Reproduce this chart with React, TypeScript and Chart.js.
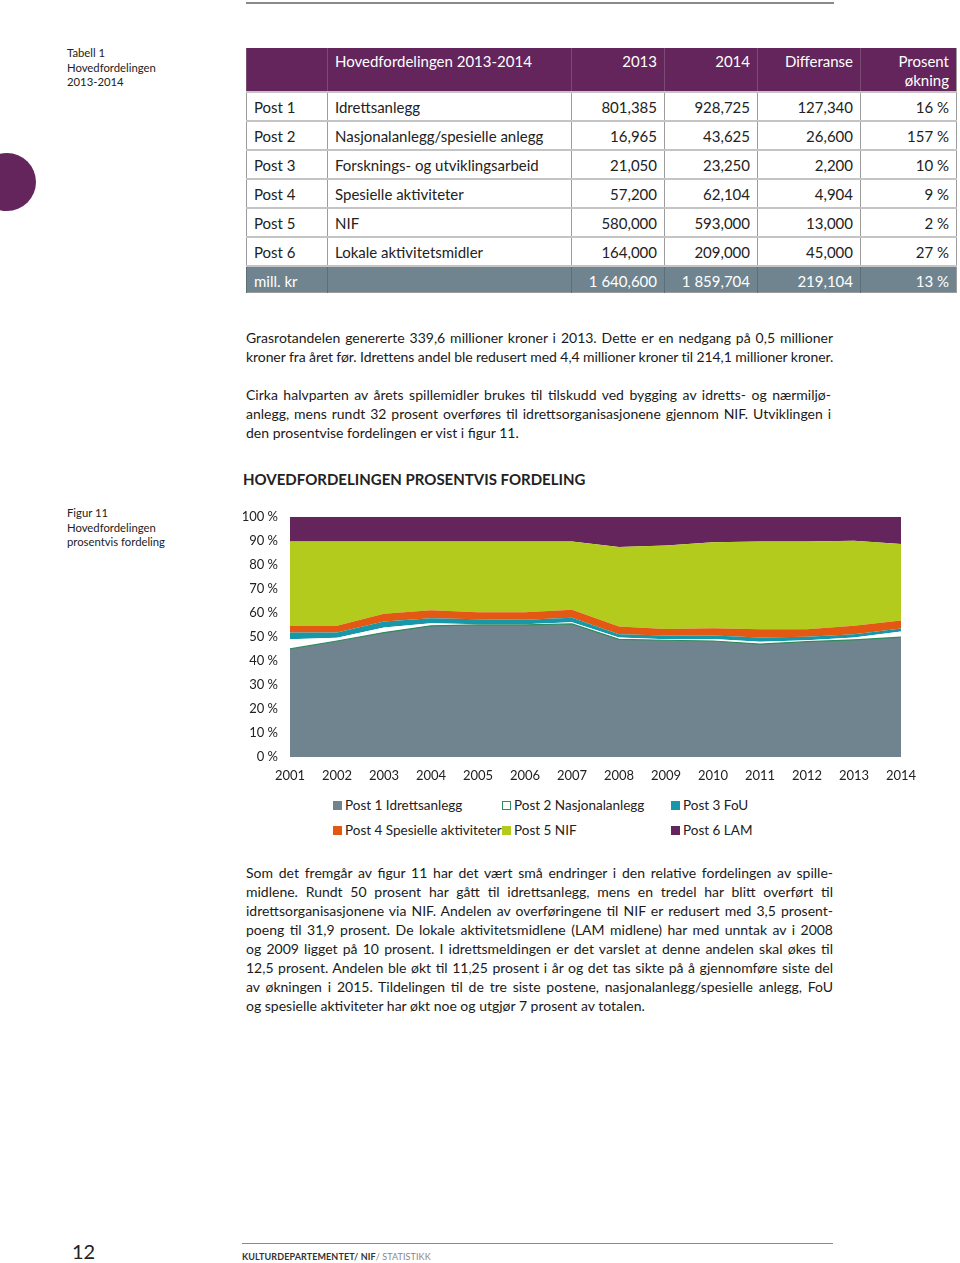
import React, { useEffect, useLayoutEffect, useRef } from "react";
import { Chart, registerables } from "chart.js";

Chart.register(...registerables);

const years = ["2001","2002","2003","2004","2005","2006","2007","2008","2009","2010","2011","2012","2013","2014"];
const post1 = [45.0, 48.3, 51.8, 54.6, 55.0, 55.0, 55.4, 49.0, 48.6, 48.3, 47.0, 48.0, 48.8, 49.9];
const post2 = [4.0, 1.3, 2.1, 1.1, 0.3, 0.3, 0.7, 0.7, 0.4, 0.8, 1.0, 0.6, 1.0, 2.3];
const post3 = [2.8, 2.2, 2.5, 2.1, 2.1, 1.8, 1.9, 1.4, 1.6, 1.5, 1.7, 1.5, 1.3, 1.3];
const post4 = [2.8, 2.8, 3.2, 3.3, 2.9, 3.2, 3.3, 3.2, 2.7, 3.0, 3.5, 3.1, 3.5, 3.3];
const post5 = [35.1, 35.1, 30.1, 28.6, 29.4, 29.4, 28.4, 33.1, 34.7, 35.8, 36.5, 36.5, 35.4, 31.9];
const post6 = [10.3, 10.3, 10.3, 10.3, 10.3, 10.3, 10.3, 12.6, 12.0, 10.6, 10.3, 10.3, 10.0, 11.3];
const yTicks = [0, 10, 20, 30, 40, 50, 60, 70, 80, 90, 100];

const seriesNames = ["Post 1 Idrettsanlegg", "Post 2 Nasjonalanlegg", "Post 3 FoU", "Post 4 Spesielle aktiviteter", "Post 5 NIF", "Post 6 LAM"];

const tableHeader = ["", "Hovedfordelingen 2013-2014", "2013", "2014", "Differanse", "Prosent økning"];
const tableRows = [
  ["Post 1", "Idrettsanlegg", "801,385", "928,725", "127,340", "16 %"],
  ["Post 2", "Nasjonalanlegg/spesielle anlegg", "16,965", "43,625", "26,600", "157 %"],
  ["Post 3", "Forsknings- og utviklingsarbeid", "21,050", "23,250", "2,200", "10 %"],
  ["Post 4", "Spesielle aktiviteter", "57,200", "62,104", "4,904", "9 %"],
  ["Post 5", "NIF", "580,000", "593,000", "13,000", "2 %"],
  ["Post 6", "Lokale aktivitetsmidler", "164,000", "209,000", "45,000", "27 %"],
];
const tableTotal = ["mill. kr", "", "1 640,600", "1 859,704", "219,104", "13 %"];

const PURPLE = "#63255b";
const GRAY = "#6f848e";
const GREEN_LINE = "#2f8a5e";
const TEAL = "#1797a8";
const ORANGE = "#e35913";
const LIME = "#b3cb1d";

const FONT = "Lato, 'Open Sans', sans-serif";

const colW = [81, 244, 93, 93, 103, 96];

function ChartBlock() {
  const ref = useRef<HTMLCanvasElement | null>(null);
  useEffect(() => {
    if (!ref.current) return;
    const mk = (label: string, data: number[], bg: string, border: string, bw: number, fill: any) => ({
      label, data, backgroundColor: bg, borderColor: border, borderWidth: bw, fill,
      pointRadius: 0, pointHoverRadius: 0, tension: 0,
    });
    const chart = new Chart(ref.current, {
      type: "line",
      data: {
        labels: years,
        datasets: [
          mk(seriesNames[0], post1, GRAY, GREEN_LINE, 1.2, "origin"),
          mk(seriesNames[1], post2, "#ffffff", "#ffffff", 0, "-1"),
          mk(seriesNames[2], post3, TEAL, TEAL, 0, "-1"),
          mk(seriesNames[3], post4, ORANGE, ORANGE, 0, "-1"),
          mk(seriesNames[4], post5, LIME, LIME, 0, "-1"),
          mk(seriesNames[5], post6, PURPLE, PURPLE, 0, "-1"),
        ],
      },
      options: {
        animation: false,
        responsive: false,
        maintainAspectRatio: false,
        layout: { padding: { top: 5, right: 24, left: 0, bottom: 0 } },
        plugins: { legend: { display: false }, tooltip: { enabled: false } },
        scales: {
          x: {
            type: "category",
            offset: false,
            grid: { display: false },
            border: { display: false },
            ticks: { color: "#222", font: { family: FONT, size: 13 }, padding: 3, maxRotation: 0, autoSkip: false },
            afterFit: (s: any) => { s.height = 38; },
          },
          y: {
            stacked: true,
            min: 0,
            max: 100,
            grid: { display: false },
            border: { display: false },
            afterBuildTicks: (s: any) => { s.ticks = yTicks.map((v) => ({ value: v })); },
            ticks: { color: "#222", font: { family: FONT, size: 13 }, padding: 4, callback: (v: any) => v + " %" },
            afterFit: (s: any) => { s.width = 65; },
          },
        },
      },
    });
    return () => chart.destroy();
  }, []);
  return <canvas ref={ref} width={700} height={290} style={{ display: "block", width: 700, height: 290 }} />;
}

const bodyText: React.CSSProperties = { fontFamily: FONT, fontSize: 14, lineHeight: "19px", color: "#1a1a1a" };

function Line({ text, width, justify }: { text: string; width: number; justify?: boolean }) {
  const ref = useRef<HTMLSpanElement | null>(null);
  useLayoutEffect(() => {
    const fit = () => {
      const el = ref.current;
      if (!el) return;
      el.style.letterSpacing = "0px";
      el.style.wordSpacing = "0px";
      const w = el.getBoundingClientRect().width;
      if (w > width) {
        el.style.letterSpacing = ((width - w) / text.length) + "px";
      } else if (justify) {
        const spaces = (text.match(/ /g) || []).length;
        if (spaces > 0) el.style.wordSpacing = ((width - w) / spaces) + "px";
      }
    };
    fit();
    if ((document as any).fonts && (document as any).fonts.ready) (document as any).fonts.ready.then(fit);
  }, [text, width, justify]);
  return <div style={{ whiteSpace: "nowrap", height: 19 }}><span ref={ref} style={{ whiteSpace: "nowrap" }}>{text}</span></div>;
}

export default function App() {
  useEffect(() => { document.body.style.margin = "0"; }, []);
  const cell = (i: number, header: boolean): React.CSSProperties => ({
    width: colW[i],
    boxSizing: "border-box",
    padding: i < 2 ? "0 0 0 7px" : "0 7px 0 0",
    textAlign: i < 2 ? "left" : "right",
    borderLeft: "1px solid #9c9c9c",
    borderRight: i === 5 ? "1px solid #9c9c9c" : undefined,
    verticalAlign: header ? "top" : "middle",
  });
  const para1 = [
    "Grasrotandelen genererte 339,6 millioner kroner i 2013. Dette er en nedgang på 0,5 millioner",
    "kroner fra året før. Idrettens andel ble redusert med 4,4 millioner kroner til 214,1 millioner kroner.",
  ];
  const para2 = [
    "Cirka halvparten av årets spillemidler brukes til tilskudd ved bygging av idretts- og nærmiljø-",
    "anlegg, mens rundt 32 prosent overføres til idrettsorganisasjonene gjennom NIF. Utviklingen i",
    "den prosentvise fordelingen er vist i figur 11.",
  ];
  const para3 = [
    "Som det fremgår av figur 11 har det vært små endringer i den relative fordelingen av spille-",
    "midlene. Rundt 50 prosent har gått til idrettsanlegg, mens en tredel har blitt overført til",
    "idrettsorganisasjonene via NIF. Andelen av overføringene til NIF er redusert med 3,5 prosent-",
    "poeng til 31,9 prosent. De lokale aktivitetsmidlene (LAM midlene) har med unntak av i 2008",
    "og 2009 ligget på 10 prosent. I idrettsmeldingen er det varslet at denne andelen skal økes til",
    "12,5 prosent. Andelen ble økt til 11,25 prosent i år og det tas sikte på å gjennomføre siste del",
    "av økningen i 2015. Tildelingen til de tre siste postene, nasjonalanlegg/spesielle anlegg, FoU",
    "og spesielle aktiviteter har økt noe og utgjør 7 prosent av totalen.",
  ];
  const legendCols = [333, 502, 671];
  const legendRows = [805, 830];
  const legendColors = [GRAY, "#ffffff", TEAL, ORANGE, LIME, PURPLE];
  return (
    <div style={{ position: "absolute", left: 0, top: 0, width: 960, height: 1263, background: "#fff", overflow: "hidden", fontFamily: FONT }}>
      <div style={{ position: "absolute", left: 246, top: 2, width: 588, height: 1.5, background: "#8a8a8a" }} />
      <div style={{ position: "absolute", left: 67, top: 46, fontSize: 11.3, lineHeight: "14.5px", color: "#222" }}>
        <div>Tabell 1</div><div>Hovedfordelingen</div><div>2013-2014</div>
      </div>
      <div style={{ position: "absolute", left: -22, top: 153, width: 58, height: 58, borderRadius: "50%", background: PURPLE }} />

      <table style={{ position: "absolute", left: 246, top: 48, borderCollapse: "collapse", tableLayout: "fixed", width: 710, fontSize: 15, color: "#222" }}>
        <tbody>
          <tr style={{ background: PURPLE, color: "#fff", height: 44 }}>
            {tableHeader.map((h, i) => (
              <td key={i} style={{ ...cell(i, true), paddingTop: 4, lineHeight: "19px", borderLeft: "1px solid #7a4a72" }}>
                {h === "Prosent økning" ? <><div>Prosent</div><div>økning</div></> : h}
              </td>
            ))}
          </tr>
          {tableRows.map((r, ri) => (
            <tr key={ri} style={{ height: 29, borderTop: "2px solid #c4c4c4" }}>
              {r.map((c, i) => <td key={i} style={cell(i, false)}>{c}</td>)}
            </tr>
          ))}
          <tr style={{ height: 26, background: GRAY, color: "#fff", borderTop: "2px solid #c4c4c4", borderBottom: "1px solid #9c9c9c" }}>
            {tableTotal.map((c, i) => <td key={i} style={{ ...cell(i, false), borderLeft: "1px solid #5b6f78", paddingTop: 3 }}>{c}</td>)}
          </tr>
        </tbody>
      </table>

      <div style={{ ...bodyText, position: "absolute", left: 246, top: 328, width: 588 }}>
        {para1.map((t, i) => <Line key={i} text={t} width={587} justify />)}
      </div>
      <div style={{ ...bodyText, position: "absolute", left: 246, top: 385, width: 588 }}>
        {para2.map((t, i) => <Line key={i} text={t} width={585} justify={i < para2.length - 1} />)}
      </div>

      <div style={{ position: "absolute", left: 243, top: 470, fontSize: 15, fontWeight: 700, color: "#222" }}>
        HOVEDFORDELINGEN PROSENTVIS FORDELING
      </div>
      <div style={{ position: "absolute", left: 67, top: 506, fontSize: 11.3, lineHeight: "14.5px", color: "#222" }}>
        <div>Figur 11</div><div>Hovedfordelingen</div><div>prosentvis fordeling</div>
      </div>

      <div style={{ position: "absolute", left: 225, top: 505, width: 700, height: 290 }}>
        <ChartBlock />
      </div>

      {seriesNames.map((n, i) => (
        <div key={i} style={{ position: "absolute", left: legendCols[i % 3], top: legendRows[Math.floor(i / 3)] - 9, height: 18, display: "flex", alignItems: "center", fontSize: 13.5, color: "#222", whiteSpace: "nowrap" }}>
          <span style={{ display: "inline-block", width: 9, height: 9, boxSizing: "border-box", background: legendColors[i], border: i === 1 ? "1px solid " + GREEN_LINE : "none", marginRight: 3 }} />
          {n}
        </div>
      ))}

      <div style={{ ...bodyText, position: "absolute", left: 246, top: 863, width: 588 }}>
        {para3.map((t, i) => <Line key={i} text={t} width={587} justify={i < para3.length - 1} />)}
      </div>

      <div style={{ position: "absolute", left: 72, top: 1239, fontSize: 20, color: "#222" }}>12</div>
      <div style={{ position: "absolute", left: 242, top: 1243, width: 591, height: 1, background: "#8a8a8a" }} />
      <div style={{ position: "absolute", left: 242, top: 1251, fontSize: 9, color: "#333", letterSpacing: 0.1 }}>
        <span style={{ fontWeight: 700 }}>KULTURDEPARTEMENTET/ NIF</span><span style={{ color: "#888" }}>/ STATISTIKK</span>
      </div>
    </div>
  );
}
